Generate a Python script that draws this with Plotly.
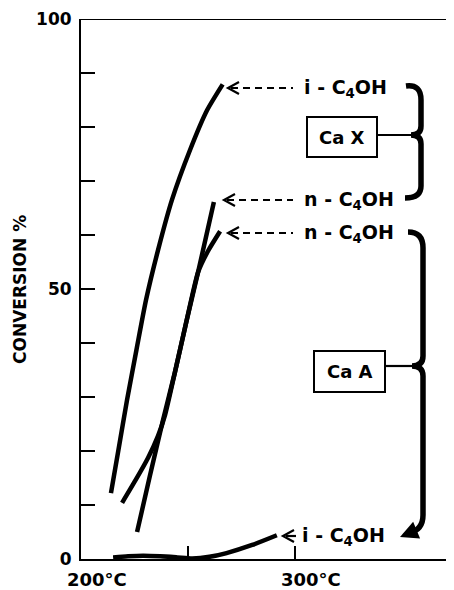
import plotly.graph_objects as go

# ---- data ----
cax_i_temp = [214.0, 217.5, 221.5, 225.9, 230.4, 236.0, 242.5, 250.9, 258.9, 266.2]
cax_i_conv = [12.2, 20.2, 29.4, 38.7, 48.0, 57.2, 66.5, 75.7, 83.1, 87.9]

cax_n_temp = [219.2, 225.2, 231.3, 236.0, 239.3, 243.9, 249.1, 254.7, 262.1]
cax_n_conv = [10.4, 14.4, 18.7, 22.8, 26.7, 34.6, 43.7, 53.1, 66.1]

caa_n_temp = [226.2, 232.2, 238.3, 243.9, 249.1, 254.7, 259.3, 265.0]
caa_n_conv = [5.0, 15.4, 25.7, 34.6, 43.7, 53.1, 57.0, 60.7]

caa_i_temp = [215, 222, 229, 237, 245, 252, 260, 268, 280, 291.5]
caa_i_conv = [0.3, 0.5, 0.6, 0.5, 0.3, 0.1, 0.4, 1.1, 2.6, 4.4]

y_tick_vals = [0, 10, 20, 30, 40, 50, 60, 70, 80, 90, 100]
y_tick_text = ["0", "", "", "", "", "50", "", "", "", "", "100"]
x_tick_vals = [250, 300]
x_tick_text = ["200°C", "300°C"]
x_label_pos = [200, 300]

# ---- layout geometry (screen pixels; page body adds an 8px offset) ----
OFF = 8
WIDTH, HEIGHT = 454 - OFF, 590 - OFF
SL, ST, SB = 81, 19, 559          # plot left / top / bottom on screen
L, T = SL - OFF, ST - OFF
PH = SB - ST
PW = WIDTH - L                    # plot runs to the right edge
B = HEIGHT - T - PH
X0 = 200
X1 = X0 + PW / 2.14
Y0, Y1 = 0, 100


def dx(sx):
    return X0 + (sx - SL) / PW * (X1 - X0)


def dy(sy):
    return Y1 - (sy - ST) / PH * (Y1 - Y0)


def ppx(sx):
    return (sx - SL) / PW


def ppy(sy):
    return (SB - sy) / PH


FONT = "DejaVu Sans"
LW = 4.5

fig = go.Figure()
for t, c in [(cax_i_temp, cax_i_conv), (cax_n_temp, cax_n_conv),
             (caa_n_temp, caa_n_conv), (caa_i_temp, caa_i_conv)]:
    fig.add_trace(go.Scatter(x=t, y=c, mode="lines",
                             line=dict(color="black", width=LW, shape="spline", smoothing=0.6),
                             showlegend=False, hoverinfo="skip"))

shapes = []
annotations = []

# top frame line
shapes.append(dict(type="line", xref="x", yref="y", x0=X0, x1=X1, y0=100, y1=100,
                   line=dict(color="black", width=2)))


def labeled_arrow(tip_px, y_px, dash_end_px, text_px, label, ndash=True):
    yv = dy(y_px)
    shapes.append(dict(type="path", xref="x", yref="y",
                       path=f"M {dx(tip_px+11)},{dy(y_px-6)} L {dx(tip_px)},{yv} L {dx(tip_px+11)},{dy(y_px+6)}",
                       line=dict(color="black", width=2.2)))
    shapes.append(dict(type="line", xref="x", yref="y", x0=dx(tip_px + 3), x1=dx(dash_end_px),
                       y0=yv, y1=yv, line=dict(color="black", width=2.2, dash="7px,5px" if ndash else "solid")))
    annotations.append(dict(x=dx(text_px), y=yv, xref="x", yref="y", text=label, showarrow=False,
                            xanchor="left", yanchor="middle",
                            font=dict(family=FONT, size=19, color="black", weight="bold")))


labeled_arrow(228, 88, 293, 302, "i - C<sub>4</sub>OH")
labeled_arrow(224, 200, 293, 302, "n - C<sub>4</sub>OH")
labeled_arrow(228, 233, 293, 302, "n - C<sub>4</sub>OH")
labeled_arrow(283, 536, 296, 300, "i - C<sub>4</sub>OH", ndash=False)

# boxes
for (x0p, y0p, x1p, y1p, label) in [(307, 117, 377, 157, "Ca X"), (314, 351, 385, 392, "Ca A")]:
    shapes.append(dict(type="rect", xref="x", yref="y", x0=dx(x0p), x1=dx(x1p), y0=dy(y0p), y1=dy(y1p),
                       line=dict(color="black", width=2), fillcolor="white"))
    annotations.append(dict(x=dx((x0p + x1p) / 2), y=dy((y0p + y1p) / 2), xref="x", yref="y", text=label,
                            showarrow=False, font=dict(family=FONT, size=18, color="black", weight="bold")))

# connectors from boxes to braces
shapes.append(dict(type="line", xref="x", yref="y", x0=dx(377), x1=dx(414), y0=dy(135), y1=dy(135),
                   line=dict(color="black", width=2.2)))
shapes.append(dict(type="line", xref="x", yref="y", x0=dx(385), x1=dx(414), y0=dy(366), y1=dy(366),
                   line=dict(color="black", width=2.2)))

# Ca X brace
bx = 421
p = (f"M {dx(406)},{dy(86)} Q {dx(bx)},{dy(84)} {dx(bx)},{dy(100)} "
     f"L {dx(bx)},{dy(126)} Q {dx(bx)},{dy(135)} {dx(411)},{dy(135)} "
     f"Q {dx(bx)},{dy(135)} {dx(bx)},{dy(144)} "
     f"L {dx(bx)},{dy(186)} Q {dx(bx)},{dy(198)} {dx(405)},{dy(198)}")
shapes.append(dict(type="path", xref="x", yref="y", path=p, line=dict(color="black", width=5.5)))

# Ca A brace
bx = 423
p = (f"M {dx(408)},{dy(232)} Q {dx(bx)},{dy(232)} {dx(bx)},{dy(248)} "
     f"L {dx(bx)},{dy(356)} Q {dx(bx)},{dy(366)} {dx(412)},{dy(366)} "
     f"Q {dx(bx)},{dy(366)} {dx(bx)},{dy(376)} "
     f"L {dx(bx)},{dy(515)} Q {dx(bx)},{dy(530)} {dx(409)},{dy(533)}")
shapes.append(dict(type="path", xref="x", yref="y", path=p, line=dict(color="black", width=5.5)))
annotations.append(dict(x=dx(400), y=dy(537), xref="x", yref="y", text="", showarrow=True,
                        arrowhead=2, arrowsize=0.9, arrowwidth=4, arrowcolor="black",
                        ax=12, ay=-5))

# x tick labels (offset to the right of the ticks as in the reference)
for xv, lab in zip(x_label_pos, x_tick_text):
    annotations.append(dict(x=xv, y=ppy(579), xref="x", yref="paper", text=lab, showarrow=False,
                            xanchor="left", xshift=-16, yanchor="middle",
                            font=dict(family=FONT, size=18, color="black", weight="bold")))

# y-axis title
annotations.append(dict(x=ppx(20), y=ppy(290), xref="paper", yref="paper",
                        text="CONVERSION %", textangle=-90, showarrow=False,
                        xanchor="center", yanchor="middle",
                        font=dict(family=FONT, size=17, color="black", weight="bold")))

fig.update_layout(
    width=WIDTH, height=HEIGHT,
    margin=dict(l=L, r=0, t=T, b=B),
    paper_bgcolor="white", plot_bgcolor="white",
    shapes=shapes, annotations=annotations,
    xaxis=dict(range=[X0, X1], showline=True, linecolor="black", linewidth=2,
               ticks="inside", tickvals=x_tick_vals, ticklen=13, tickwidth=2, tickcolor="black",
               showticklabels=False, showgrid=False, zeroline=False, fixedrange=True),
    yaxis=dict(range=[Y0, Y1], showline=True, linecolor="black", linewidth=2,
               ticks="inside", tickvals=y_tick_vals, ticktext=y_tick_text, ticklen=14, tickwidth=2,
               tickcolor="black", showgrid=False, zeroline=False, fixedrange=True,
               ticklabelstandoff=4,
               tickfont=dict(family=FONT, size=17, color="black", weight="bold")),
)

fig.write_html("out.html", default_width=f"{WIDTH}px", default_height=f"{HEIGHT}px")
